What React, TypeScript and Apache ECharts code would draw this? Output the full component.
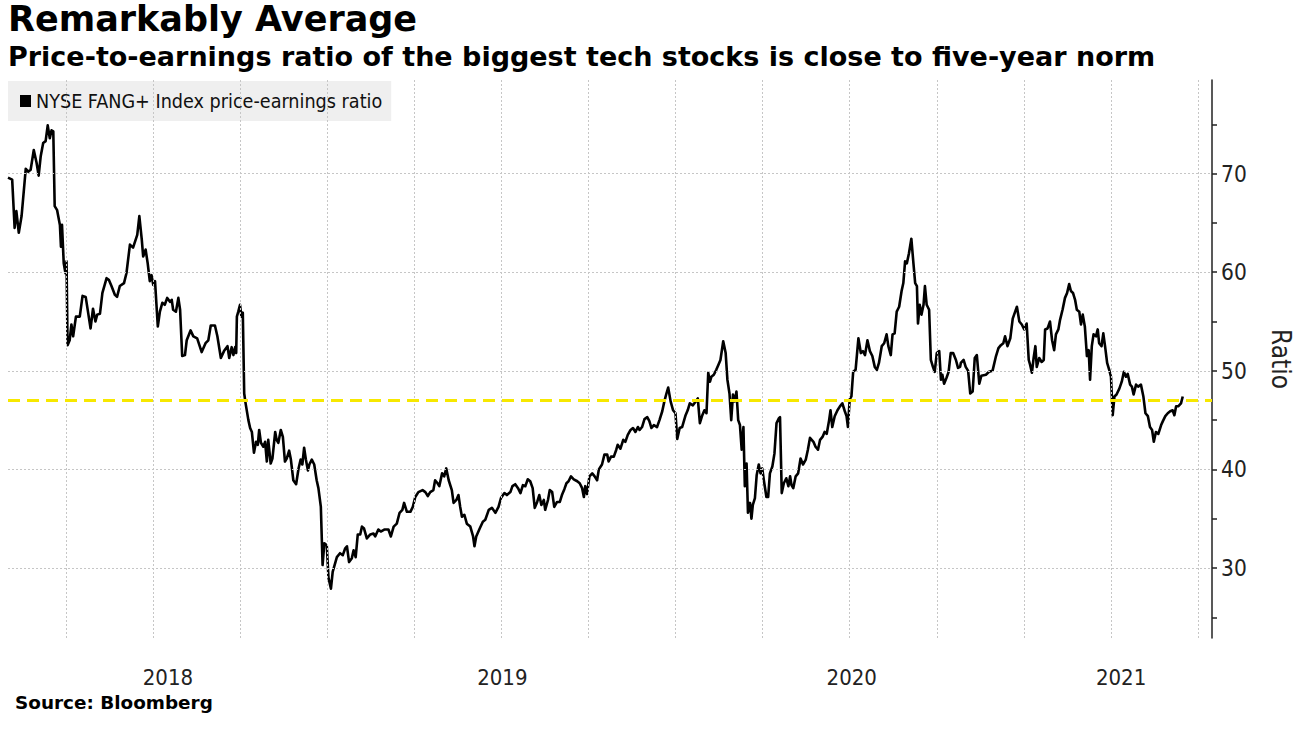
import { useEffect, useRef } from "react";
import * as echarts from "echarts";

const seriesName = "NYSE FANG+ Index price-earnings ratio";
const titleText = "Remarkably Average";
const subtitleText = "Price-to-earnings ratio of the biggest tech stocks is close to five-year norm";
const sourceText = "Source: Bloomberg";
const axisName = "Ratio";

// dates as decimal years
const dates = [
  2017.834, 2017.846, 2017.853, 2017.858, 2017.865, 2017.873, 2017.885, 2017.892, 2017.899, 2017.908,
  2017.916, 2017.922, 2017.928, 2017.935, 2017.942, 2017.948, 2017.954, 2017.959, 2017.964, 2017.968,
  2017.975, 2017.983, 2017.986, 2017.989, 2017.994, 2017.999, 2018.002, 2018.005, 2018.011, 2018.016,
  2018.021, 2018.029, 2018.040, 2018.048, 2018.057, 2018.064, 2018.071, 2018.078, 2018.085, 2018.090,
  2018.098, 2018.105, 2018.117, 2018.124, 2018.131, 2018.141, 2018.147, 2018.155, 2018.167, 2018.174,
  2018.184, 2018.193, 2018.205, 2018.211, 2018.218, 2018.222, 2018.229, 2018.235, 2018.241, 2018.246,
  2018.251, 2018.256, 2018.264, 2018.270, 2018.277, 2018.284, 2018.291, 2018.299, 2018.304, 2018.308,
  2018.316, 2018.323, 2018.328, 2018.334, 2018.342, 2018.347, 2018.358, 2018.366, 2018.377, 2018.390,
  2018.401, 2018.409, 2018.416, 2018.428, 2018.435, 2018.445, 2018.454, 2018.464, 2018.469, 2018.476,
  2018.481, 2018.486, 2018.489, 2018.491, 2018.495, 2018.500, 2018.504,
  2018.508, 2018.512, 2018.516, 2018.524, 2018.529, 2018.534, 2018.540, 2018.546, 2018.551, 2018.555,
  2018.560, 2018.567, 2018.572, 2018.577, 2018.581, 2018.588, 2018.593, 2018.601, 2018.605, 2018.610,
  2018.617, 2018.623, 2018.629, 2018.634, 2018.641, 2018.646, 2018.653, 2018.661, 2018.668, 2018.674,
  2018.679, 2018.684, 2018.689, 2018.695, 2018.699, 2018.706, 2018.713, 2018.720, 2018.725, 2018.732,
  2018.737, 2018.742, 2018.749, 2018.754, 2018.761, 2018.766, 2018.778, 2018.787, 2018.795, 2018.802,
  2018.807, 2018.813, 2018.821, 2018.826, 2018.832, 2018.838, 2018.845, 2018.850, 2018.856, 2018.864,
  2018.874, 2018.883, 2018.888, 2018.897, 2018.904, 2018.914, 2018.926, 2018.933, 2018.941, 2018.950,
  2018.958, 2018.966, 2018.971, 2018.979, 2018.989, 2018.996, 2019.003, 2019.012, 2019.024, 2019.032,
  2019.039, 2019.046, 2019.055, 2019.060, 2019.067, 2019.072, 2019.080, 2019.086, 2019.092, 2019.099,
  2019.108, 2019.113, 2019.121, 2019.127, 2019.132, 2019.137, 2019.144, 2019.151, 2019.161, 2019.169,
  2019.173, 2019.178, 2019.188,
  2019.197, 2019.204, 2019.214, 2019.223, 2019.233, 2019.242, 2019.249, 2019.259, 2019.266, 2019.276,
  2019.282, 2019.290, 2019.298, 2019.305, 2019.312, 2019.319, 2019.326, 2019.333, 2019.340, 2019.346,
  2019.353, 2019.359, 2019.365, 2019.372, 2019.376, 2019.384, 2019.389, 2019.396, 2019.402, 2019.410,
  2019.418, 2019.424, 2019.431, 2019.437, 2019.443, 2019.450, 2019.458, 2019.468, 2019.475, 2019.482,
  2019.487, 2019.491, 2019.496, 2019.503, 2019.511, 2019.518, 2019.525, 2019.530, 2019.539, 2019.546,
  2019.554, 2019.558, 2019.565, 2019.573, 2019.580, 2019.584, 2019.592, 2019.600, 2019.606, 2019.613,
  2019.621, 2019.628, 2019.635, 2019.642, 2019.647, 2019.654, 2019.661, 2019.669, 2019.675, 2019.681,
  2019.688, 2019.697, 2019.704, 2019.712, 2019.718, 2019.724, 2019.729, 2019.736, 2019.743, 2019.750,
  2019.755, 2019.762, 2019.769, 2019.779, 2019.785, 2019.791, 2019.800, 2019.808, 2019.814, 2019.820,
  2019.827, 2019.833, 2019.839, 2019.844, 2019.849, 2019.853, 2019.860, 2019.867, 2019.873, 2019.879,
  2019.887, 2019.894, 2019.899, 2019.905, 2019.910, 2019.915, 2019.920, 2019.925, 2019.930, 2019.935,
  2019.940, 2019.945, 2019.949, 2019.954, 2019.958, 2019.964, 2019.968, 2019.972, 2019.978, 2019.983,
  2019.989, 2019.994, 2019.999, 2020.004, 2020.011, 2020.016, 2020.021, 2020.028, 2020.034, 2020.040,
  2020.047, 2020.050, 2020.055, 2020.061, 2020.068, 2020.074, 2020.079, 2020.083, 2020.088, 2020.095,
  2020.102, 2020.109, 2020.116, 2020.124, 2020.130, 2020.136, 2020.146, 2020.152, 2020.159, 2020.165,
  2020.172, 2020.178, 2020.184, 2020.191, 2020.195, 2020.200, 2020.207, 2020.215, 2020.222, 2020.229,
  2020.236, 2020.241, 2020.245, 2020.250, 2020.255, 2020.260, 2020.267, 2020.275, 2020.282, 2020.288,
  2020.294, 2020.301, 2020.308, 2020.315, 2020.322, 2020.328, 2020.334, 2020.342, 2020.349, 2020.356,
  2020.361, 2020.368, 2020.373, 2020.379, 2020.385, 2020.392, 2020.399, 2020.404, 2020.409, 2020.414,
  2020.420, 2020.427, 2020.433, 2020.438, 2020.443, 2020.446, 2020.451, 2020.456, 2020.462, 2020.466,
  2020.471, 2020.478, 2020.483, 2020.489, 2020.494, 2020.500, 2020.507, 2020.512, 2020.516, 2020.521,
  2020.528, 2020.534, 2020.540, 2020.547, 2020.555, 2020.561, 2020.567,
  2020.569, 2020.577, 2020.583, 2020.590, 2020.596, 2020.603, 2020.609, 2020.615, 2020.622, 2020.628,
  2020.641, 2020.650, 2020.660, 2020.670, 2020.677, 2020.684, 2020.691, 2020.696, 2020.703, 2020.711,
  2020.718, 2020.724, 2020.730, 2020.737, 2020.744, 2020.751, 2020.758, 2020.764, 2020.768, 2020.773,
  2020.778, 2020.783, 2020.787, 2020.794, 2020.801, 2020.807, 2020.811, 2020.818, 2020.825, 2020.831,
  2020.837, 2020.842, 2020.849, 2020.854, 2020.861, 2020.868, 2020.874, 2020.880, 2020.885, 2020.891,
  2020.897, 2020.902, 2020.909, 2020.914, 2020.919, 2020.925, 2020.931, 2020.936, 2020.940, 2020.945,
  2020.950, 2020.957, 2020.962, 2020.966, 2020.973, 2020.978, 2020.983, 2020.989, 2020.995, 2021.000,
  2021.005, 2021.010, 2021.016, 2021.024, 2021.031, 2021.037, 2021.043, 2021.048, 2021.055, 2021.060,
  2021.065, 2021.072, 2021.078, 2021.086, 2021.093, 2021.099, 2021.106, 2021.112, 2021.118, 2021.123,
  2021.129, 2021.136, 2021.144, 2021.149, 2021.156, 2021.163, 2021.170, 2021.177, 2021.182, 2021.187,
  2021.193, 2021.201, 2021.206,
];

const peRatio = [
  69.6, 69.4, 64.5, 66.2, 64.0, 65.7, 70.5, 70.2, 70.4, 72.4,
  71.1, 69.8, 71.8, 73.1, 73.3, 74.9, 73.6, 74.4, 74.3, 66.7,
  66.3, 64.8, 62.6, 64.8, 60.9, 59.9, 61.1, 52.6, 53.1, 54.7,
  53.5, 55.5, 55.5, 57.6, 57.5, 55.9, 54.3, 56.3, 55.0, 55.7,
  55.8, 57.9, 59.4, 59.2, 58.6, 57.7, 57.5, 58.6, 58.9, 59.9,
  62.8, 62.5, 63.8, 65.7, 63.3, 61.6, 62.3, 60.9, 59.1, 59.7,
  58.7, 59.1, 54.5, 56.0, 56.9, 56.7, 57.4, 57.0, 57.2, 56.2,
  56.0, 57.4, 56.2, 51.5, 51.6, 53.1, 54.1, 53.5, 53.3, 51.9,
  52.8, 53.1, 54.6, 54.6, 53.5, 51.3, 52.0, 52.5, 51.3, 52.4,
  51.6, 52.4, 51.8, 55.5, 56.0, 56.7, 55.5,
  55.9, 47.7, 46.7, 45.0, 44.2, 43.8, 41.7, 42.8, 42.5, 44.0,
  42.7, 42.3, 42.8, 40.8, 43.0, 40.6, 41.1, 43.8, 43.0, 42.7,
  44.0, 43.3, 40.8, 41.1, 41.9, 41.0, 38.9, 38.5, 40.1, 41.0,
  40.5, 42.2, 41.0, 39.9, 40.5, 41.0, 40.5, 38.9, 38.1, 36.2,
  30.3, 32.5, 32.3, 29.0, 27.9, 29.6, 31.1, 31.5, 31.3, 32.0,
  32.2, 30.6, 31.0, 31.8, 31.1, 33.4, 33.4, 34.2, 34.0, 33.0,
  33.4, 33.5, 33.2, 33.9, 33.7, 33.9, 33.9, 33.2, 34.2, 34.5,
  35.6, 35.9, 36.6, 35.7, 35.7, 36.2, 37.2, 37.7, 37.9, 37.7,
  37.3, 37.7, 37.9, 38.9, 38.6, 38.3, 39.6, 39.3, 40.1, 38.9,
  37.9, 36.6, 36.9, 37.4, 36.2, 35.2, 35.4, 34.5, 34.2, 33.2,
  32.2, 33.2, 34.0,
  34.7, 34.9, 35.9, 36.1, 35.6, 36.2, 37.1, 37.6, 37.4, 37.7,
  38.3, 38.5, 38.1, 37.6, 38.4, 38.3, 39.0, 38.8, 38.1, 36.1,
  36.7, 37.4, 36.4, 36.9, 35.9, 36.9, 37.9, 37.7, 36.2, 36.7,
  36.7, 37.4, 38.0, 38.6, 38.8, 39.3, 39.0, 38.8, 38.6, 38.1,
  37.2, 38.3, 37.5, 39.3, 39.6, 39.3, 38.9, 40.0, 40.5, 41.5,
  41.5, 40.8, 41.3, 41.3, 42.0, 42.5, 42.1, 43.0, 42.8, 43.5,
  44.0, 44.2, 43.8, 44.3, 44.0, 44.3, 45.1, 45.3, 44.9, 44.2,
  44.5, 44.3, 45.0, 45.9, 46.9, 47.7, 48.3, 46.9, 46.0, 45.7,
  43.1, 44.2, 44.3, 45.5, 46.0, 46.7, 46.5, 46.9, 47.2, 44.7,
  45.5, 46.0, 45.7, 49.8, 48.9, 49.4, 49.6, 50.1, 50.6, 51.1,
  53.0, 51.8, 49.1, 47.7, 45.0, 47.6, 46.9, 47.9, 45.0, 44.5,
  42.0, 44.3, 38.3, 40.6, 35.6, 36.6, 35.0, 36.4, 37.1, 39.4,
  40.5, 39.6, 40.1, 38.8, 37.2, 37.2, 39.6, 40.3, 41.6, 44.7,
  45.2, 45.3, 37.6, 38.6, 39.1, 38.3, 39.3, 38.4, 38.1, 39.3,
  39.6, 41.1, 40.5, 41.0, 42.0, 43.2, 42.8, 42.3, 42.0, 43.0,
  43.3, 43.8, 43.6, 45.0, 46.0, 44.3, 45.4, 46.0, 46.4, 46.7,
  45.9, 45.4, 44.3, 47.1, 47.4, 49.9, 50.1, 53.3, 51.8, 52.0,
  51.6, 53.1, 52.0, 51.5, 50.4, 50.1, 50.8, 52.5, 52.8, 53.7,
  52.5, 51.6, 53.7, 53.8, 56.0, 56.5, 58.1, 58.9, 61.1, 60.9,
  61.9, 63.4, 60.9, 58.9, 58.6, 54.8, 56.7, 55.7, 56.7, 58.6,
  56.7, 56.2, 51.1, 50.4, 49.9, 51.8, 52.0, 49.1, 49.6, 48.7,
  49.3, 49.9, 51.8, 51.8, 51.1, 50.3, 50.4,
  50.8, 51.1, 50.4, 50.0, 47.7, 47.9, 51.3, 51.6, 48.7, 49.5,
  49.6, 49.9, 50.0, 51.5, 52.3, 52.6, 52.8, 53.5, 52.5, 53.3,
  55.3, 55.9, 56.5, 55.0, 54.7, 54.2, 54.8, 51.1, 50.6, 49.8,
  51.3, 52.5, 50.4, 51.3, 50.9, 51.1, 54.2, 54.3, 55.0, 53.1,
  52.1, 53.7, 54.2, 55.2, 56.2, 57.4, 57.9, 58.8, 58.1, 57.9,
  57.2, 56.2, 56.0, 54.7, 55.7, 54.5, 51.5, 52.1, 49.1, 52.5,
  53.7, 53.5, 54.2, 52.8, 52.5, 53.8, 52.5, 50.8, 50.1, 49.4,
  45.5, 47.4, 47.6, 48.2, 48.9, 49.9, 49.4, 49.7, 48.6, 48.4,
  47.6, 48.6, 48.4, 48.6, 47.4, 45.7, 45.4, 44.3, 44.0, 42.8,
  43.8, 43.6, 44.5, 44.9, 45.4, 45.7, 45.9, 46.0, 45.5, 46.4,
  46.4, 46.7, 47.4,
];

const fiveYearNorm = 47;
const quarterLines = [
  2018, 2018.25, 2018.5, 2018.75, 2019, 2019.25, 2019.5, 2019.75,
  2020, 2020.25, 2020.5, 2020.75, 2021, 2021.25,
];
const yearLabels = ["2018", "2019", "2020", "2021"];
const yearLabelPositions = [2018.293, 2019.253, 2020.256, 2021.029];
const yLabelValues = [30, 40, 50, 60, 70];
const yTickValues = [25, 30, 35, 40, 45, 50, 55, 60, 65, 70, 75];
const xRange = [2017.834, 2021.29];
const yRange = [22.9, 79.5];

const COND = "'DejaVu Sans Condensed', 'DejaVu Sans', sans-serif";
const BOLD = "'DejaVu Sans', sans-serif";

export default function App() {
  const ref = useRef<HTMLDivElement>(null);
  useEffect(() => {
    if (!ref.current) return;
    const chart = echarts.init(ref.current, null, { renderer: "svg" });
    const lineData = dates.map((d, i) => [d, peRatio[i]]);
    const gridStyle = { color: "#c6c6c6", width: 1, type: [2, 2] as number[] };
    chart.setOption({
      animation: false,
      backgroundColor: "#ffffff",
      title: [
        {
          text: titleText,
          left: 8,
          top: 1,
          padding: 0,
          textStyle: { fontFamily: BOLD, fontWeight: "bold", fontSize: 35, color: "#000" },
        },
        {
          text: subtitleText,
          left: 8,
          top: 43,
          padding: 0,
          textStyle: { fontFamily: BOLD, fontWeight: "bold", fontSize: 27, color: "#000" },
        },
        {
          text: sourceText,
          left: 15,
          top: 693,
          padding: 0,
          textStyle: { fontFamily: BOLD, fontWeight: "bold", fontSize: 18.4, color: "#000" },
        },
      ],
      legend: {
        show: true,
        data: [seriesName],
        left: 8,
        top: 81,
        padding: [10, 9, 10, 12],
        backgroundColor: "#efefef",
        icon: "rect",
        itemWidth: 11,
        itemHeight: 12,
        selectedMode: false,
        textStyle: { fontFamily: COND, fontSize: 19.6, color: "#111" },
      },
      grid: { left: 8, right: 100, top: 80, bottom: 96, containLabel: false },
      xAxis: {
        type: "value",
        min: xRange[0],
        max: xRange[1],
        axisLine: { show: false },
        axisTick: { show: false },
        splitLine: { show: false },
        axisLabel: {
          customValues: yearLabelPositions,
          margin: 28,
          fontFamily: COND,
          fontSize: 22,
          color: "#222",
          formatter: (v: number) => {
            let best = 0;
            yearLabelPositions.forEach((p, i) => {
              if (Math.abs(p - v) < Math.abs(yearLabelPositions[best] - v)) best = i;
            });
            return yearLabels[best];
          },
        },
      },
      yAxis: {
        type: "value",
        position: "right",
        min: yRange[0],
        max: yRange[1],
        name: axisName,
        nameLocation: "middle",
        nameGap: 56,
        nameRotate: -90,
        nameTextStyle: { fontFamily: COND, fontSize: 26, color: "#222" },
        axisLine: { show: true, lineStyle: { color: "#222", width: 1.5 } },
        axisTick: {
          show: true,
          customValues: yTickValues,
          length: 5,
          inside: false,
          lineStyle: { color: "#222", width: 1.5 },
        },
        splitLine: { show: false },
        axisLabel: {
          customValues: yLabelValues,
          margin: 9,
          fontFamily: COND,
          fontSize: 22.5,
          color: "#222",
        },
      },
      series: [
        {
          name: "gridlines",
          type: "line",
          data: lineData,
          symbol: "none",
          lineStyle: { opacity: 0 },
          silent: true,
          z: 1,
          markLine: {
            silent: true,
            symbol: ["none", "none"],
            label: { show: false },
            animation: false,
            data: [
              ...quarterLines.map((q) => ({ xAxis: q, lineStyle: gridStyle })),
              ...yLabelValues.map((v) => ({ yAxis: v, lineStyle: gridStyle })),
              {
                yAxis: fiveYearNorm,
                lineStyle: { color: "#f7e800", width: 3.2, type: [12, 7] },
              },
            ],
          },
        },
        {
          name: seriesName,
          type: "line",
          data: lineData,
          showSymbol: false,
          symbol: "none",
          itemStyle: { color: "#000" },
          lineStyle: { color: "#000", width: 2.6, join: "round" },
          z: 3,
        },
      ],
    });
    return () => chart.dispose();
  }, []);
  return (
    <div
      ref={ref}
      style={{ position: "absolute", left: 0, top: 0, width: 1312, height: 734, background: "#fff" }}
    />
  );
}
